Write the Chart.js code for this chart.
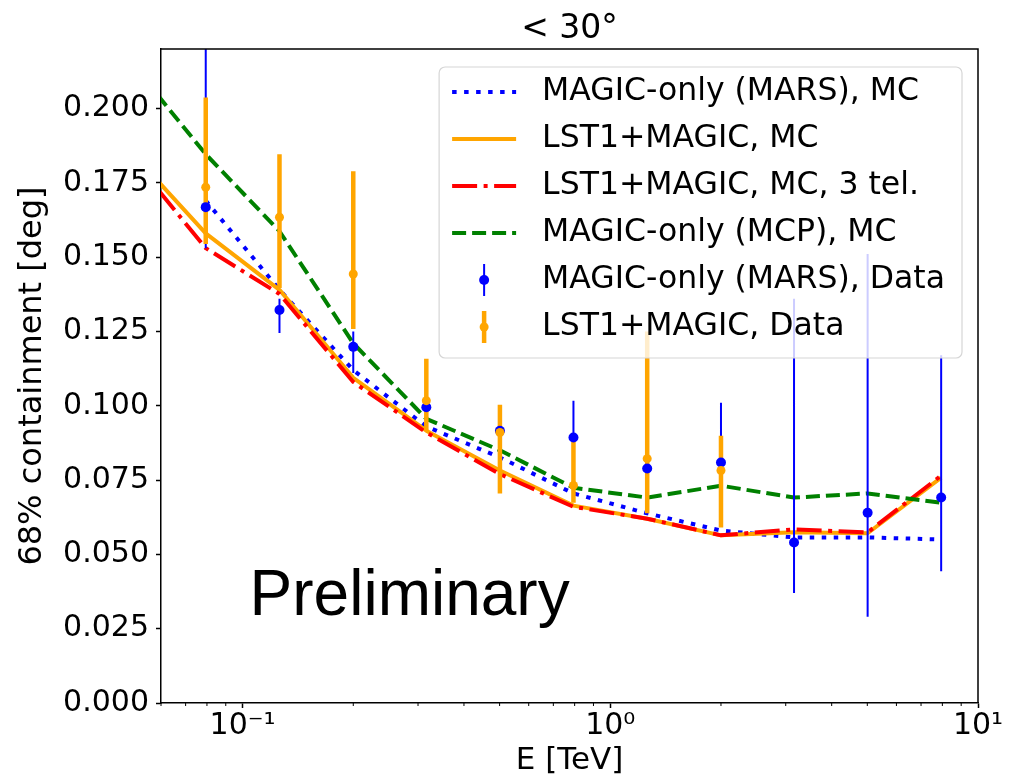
<!DOCTYPE html>
<html>
<head>
<meta charset="utf-8">
<script src="https://cdn.jsdelivr.net/npm/chart.js@4.4.0/dist/chart.umd.min.js"></script>
<style>
body { margin: 0; background: #fff; }
</style>
</head>
<body>
<canvas id="myChart" width="1016" height="781"></canvas>
<script>
// energy bin centres [TeV]
const energy = [0.0794, 0.126, 0.2, 0.316, 0.501, 0.794, 1.26, 2.0, 3.16, 5.01, 7.94]
const energyMC = [0.0501, 0.0794, 0.126, 0.2, 0.316, 0.501, 0.794, 1.26, 2.0, 3.16, 5.01, 7.94]

// MC curves (68% containment, deg)
const marsMC = [null, 0.169, 0.139, 0.112, 0.093, 0.0826, 0.0705, 0.0638, 0.058, 0.0557, 0.0557, 0.055]
const lstMC = [0.185, 0.158, 0.139, 0.1094, 0.0916, 0.0782, 0.0664, 0.062, 0.0564, 0.0574, 0.0571, 0.0758]
const lst3telMC = [0.1833, 0.153, 0.1376, 0.108, 0.091, 0.077, 0.066, 0.062, 0.0564, 0.0584, 0.0574, 0.0765]
const mcpMC = [0.215, 0.1846, 0.1587, 0.121, 0.0956, 0.085, 0.0724, 0.0691, 0.0731, 0.0691, 0.0705, 0.0674]

// data points with error bars
const marsData = [0.1668, 0.1322, 0.1198, 0.0995, 0.0916, 0.0893, 0.0789, 0.0809, 0.054, 0.064, 0.0691]
const marsLo = [0.153, 0.1245, 0.111, 0.092, 0.084, 0.077, 0.066, 0.06, 0.037, 0.029, 0.0443]
const marsHi = [0.25, 0.136, 0.125, 0.107, 0.1, 0.1017, 0.092, 0.101, 0.136, 0.151, 0.117]

const lstData = [0.1735, 0.1634, 0.1443, 0.1017, 0.091, 0.0732, 0.0822, 0.0782]
const lstLo = [0.1544, 0.1396, 0.1258, 0.0916, 0.0705, 0.0674, 0.0638, 0.059]
const lstHi = [0.2037, 0.1846, 0.1789, 0.1158, 0.1003, 0.088, 0.125, 0.0899]

const seriesNames = ['MAGIC-only (MARS), MC', 'LST1+MAGIC, MC', 'LST1+MAGIC, MC, 3 tel.',
    'MAGIC-only (MCP), MC', 'MAGIC-only (MARS), Data', 'LST1+MAGIC, Data']

const xMajorTicks = [0.1, 1, 10]
const xTickLabels = ['10\u207B\u00B9', '10\u2070', '10\u00B9']
const xMinorTicks = [0.06, 0.07, 0.08, 0.09, 0.2, 0.3, 0.4, 0.5, 0.6, 0.7, 0.8, 0.9, 2, 3, 4, 5, 6, 7, 8, 9]
const yTicks = [0, 0.025, 0.05, 0.075, 0.1, 0.125, 0.15, 0.175, 0.2]

const FONT = "'DejaVu Sans', sans-serif"
Chart.defaults.font.family = FONT
Chart.defaults.color = '#000'

function points (xs, ys) {
    return ys.map((y, i) => ({x: xs[i], y: y}))
}

function barPoints (xs, lo, hi) {
    let pts = []
    lo.forEach((l, i) => {
        pts.push({x: xs[i], y: l}, {x: xs[i], y: hi[i]}, {x: xs[i], y: null})
    })
    return pts
}

const styles = [
    {color: 'blue', width: 4, dash: [4.5, 7.5]},
    {color: 'orange', width: 4, dash: []},
    {color: 'red', width: 4, dash: [25, 6.5, 4, 6.5]},
    {color: 'green', width: 4, dash: [14, 6]},
    {color: 'blue', width: 2, radius: 5},
    {color: 'orange', width: 4.5, radius: 4.5}
]

function lineSet (data, st, order) {
    return {
        data: data, borderColor: st.color, borderWidth: st.width, borderDash: st.dash,
        borderJoinStyle: 'round', pointRadius: 0, fill: false, tension: 0,
        spanGaps: false, clip: 0, order: order
    }
}

function markerSet (data, st, order) {
    return {
        data: data, showLine: false, pointRadius: st.radius, pointBorderWidth: 0,
        pointBackgroundColor: st.color, borderColor: st.color, clip: 0, order: order
    }
}

const dataSets = [
    lineSet(points(energyMC, marsMC), styles[0], 8),
    lineSet(points(energyMC, lstMC), styles[1], 7),
    lineSet(points(energyMC, lst3telMC), styles[2], 6),
    lineSet(points(energyMC, mcpMC), styles[3], 5),
    lineSet(barPoints(energy, marsLo, marsHi), {color: 'blue', width: 2, dash: []}, 4),
    lineSet(barPoints(energy, lstLo, lstHi), {color: 'orange', width: 4.5, dash: []}, 3),
    markerSet(points(energy, marsData), styles[4], 2),
    markerSet(points(energy, lstData), styles[5], 1)
]

// matplotlib-like decorations: frame, minor ticks, title, legend, watermark
const decorations = {
    id: 'decorations',
    afterDraw (chart) {
        const {ctx, chartArea} = chart
        const xs = chart.scales.x, ys = chart.scales.y
        ctx.save()
        // top / right spines
        ctx.strokeStyle = '#000'
        ctx.lineWidth = 1.5
        ctx.beginPath()
        ctx.moveTo(chartArea.left, chartArea.top)
        ctx.lineTo(chartArea.right, chartArea.top)
        ctx.lineTo(chartArea.right, chartArea.bottom)
        ctx.stroke()
        // minor ticks
        ctx.lineWidth = 1
        for (let v of xMinorTicks) {
            let px = xs.getPixelForValue(v)
            ctx.beginPath()
            ctx.moveTo(px, chartArea.bottom)
            ctx.lineTo(px, chartArea.bottom + 3)
            ctx.stroke()
        }
        // title
        ctx.fillStyle = '#000'
        ctx.font = '33px ' + FONT
        ctx.textAlign = 'center'
        ctx.textBaseline = 'alphabetic'
        ctx.fillText('< 30°', (chartArea.left + chartArea.right) / 2, chartArea.top - 11)
        // watermark
        ctx.font = '64px "Liberation Sans", Arial, sans-serif'
        ctx.textAlign = 'left'
        ctx.fillText('Preliminary', xs.getPixelForValue(0.1045), ys.getPixelForValue(0.0295))

        // legend
        ctx.font = '31.5px ' + FONT
        const textW = Math.max(...seriesNames.map(s => ctx.measureText(s).width))
        const right = chartArea.right - 16
        const top = chartArea.top + 18
        const width = 13 + 64 + 26 + textW + 17
        const left = right - width
        const rowH = 47
        const height = 25 + 5 * rowH + 31
        ctx.beginPath()
        ctx.roundRect(left, top, width, height, 6)
        ctx.fillStyle = 'rgba(255,255,255,0.8)'
        ctx.fill()
        ctx.strokeStyle = '#d6d6d6'
        ctx.lineWidth = 1.2
        ctx.stroke()
        seriesNames.forEach((name, i) => {
            const y = top + 25 + i * rowH
            const st = styles[i]
            const hx = left + 13
            ctx.strokeStyle = st.color
            ctx.fillStyle = st.color
            ctx.lineWidth = st.width
            if (st.radius) {
                ctx.setLineDash([])
                ctx.beginPath()
                ctx.moveTo(hx + 32, y - 16)
                ctx.lineTo(hx + 32, y + 16)
                ctx.stroke()
                ctx.beginPath()
                ctx.arc(hx + 32, y, st.radius, 0, Math.PI * 2)
                ctx.fill()
            } else {
                ctx.setLineDash(st.dash)
                ctx.beginPath()
                ctx.moveTo(hx, y)
                ctx.lineTo(hx + 64, y)
                ctx.stroke()
            }
            ctx.setLineDash([])
            ctx.fillStyle = '#000'
            ctx.textBaseline = 'middle'
            ctx.fillText(name, left + 103, y)
        })
        ctx.restore()
    }
}

const chartContext = document.getElementById('myChart').getContext('2d')
const myChart = new Chart(chartContext, {
    type: 'line',
    data: {datasets: dataSets},
    options: {
        responsive: false,
        animation: false,
        devicePixelRatio: 1,
        layout: {padding: {left: 0, top: 49, right: 38, bottom: 0}},
        plugins: {legend: {display: false}, tooltip: {enabled: false}},
        scales: {
            x: {
                type: 'logarithmic', min: 0.06, max: 10,
                afterFit: scale => { scale.height = 78 },
                afterBuildTicks: scale => {
                    scale.ticks = xMajorTicks.concat(xMinorTicks).sort((a, b) => a - b)
                        .map(v => ({value: v, major: xMajorTicks.includes(v)}))
                },
                ticks: {
                    autoSkip: false, maxRotation: 0, padding: 0,
                    font: {size: 30}, color: '#000',
                    callback: function (val) {
                        let i = xMajorTicks.indexOf(val)
                        return i >= 0 ? xTickLabels[i] : ''
                    }
                },
                grid: {
                    drawOnChartArea: false, tickLength: 5, tickWidth: 1.5,
                    tickColor: c => (c.tick && c.tick.major) ? '#000' : 'rgba(0,0,0,0)'
                },
                border: {color: '#000', width: 1.5},
                title: {display: true, text: 'E [TeV]', font: {size: 31}, color: '#000', padding: {top: 0, bottom: 1}}
            },
            y: {
                min: 0, max: 0.22,
                afterFit: scale => { scale.width = 161 },
                afterBuildTicks: scale => {
                    scale.ticks = yTicks.map(v => ({value: v}))
                },
                ticks: {
                    padding: 7, font: {size: 30}, color: '#000',
                    callback: val => val.toFixed(3)
                },
                grid: {drawOnChartArea: false, tickLength: 5, tickWidth: 1.5, tickColor: '#000'},
                border: {color: '#000', width: 1.5},
                title: {display: true, text: '68% containment [deg]', font: {size: 32}, color: '#000', padding: {top: 13, bottom: 0}}
            }
        }
    },
    plugins: [decorations]
})
</script>
</body>
</html>
